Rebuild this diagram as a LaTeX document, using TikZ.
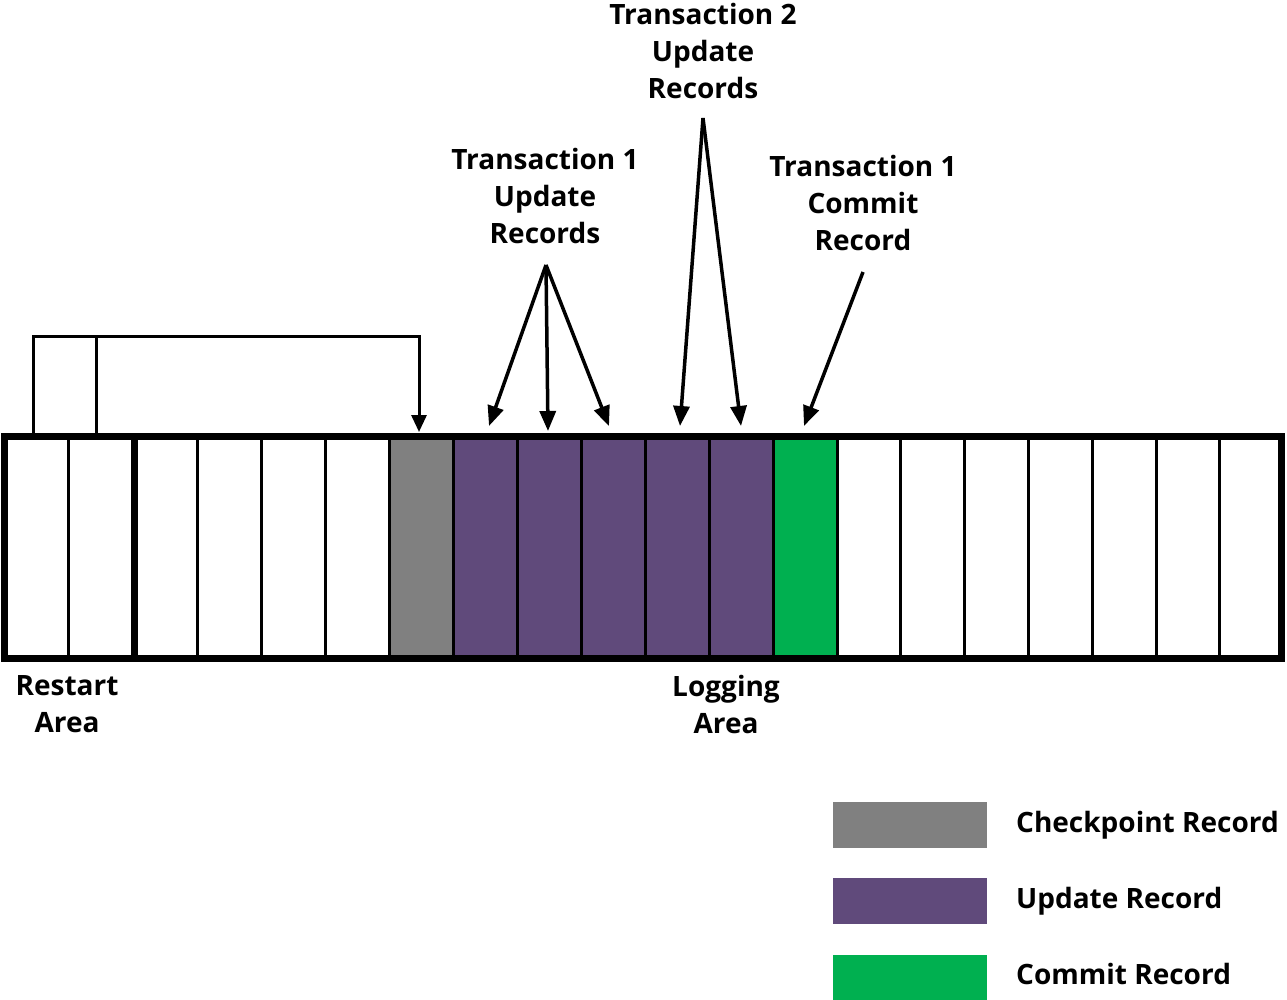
\documentclass[tikz,border=0pt]{standalone}
\usepackage{fontspec}
\setmainfont{Open Sans}
\usetikzlibrary{arrows.meta,calc}
\definecolor{ckgray}{HTML}{808080}
\definecolor{updpurple}{HTML}{604A7B}
\definecolor{cmtgreen}{HTML}{00B050}
\begin{document}
\begin{tikzpicture}[x=1pt,y=-1pt,
  lbl/.style={font=\bfseries\fontsize{28}{37}\selectfont, align=center, inner sep=0pt},
  leg/.style={font=\bfseries\fontsize{28}{37}\selectfont, inner sep=0pt, anchor=base west},
  arr/.style={line width=3.5pt, -{Triangle[length=20pt,width=16pt]}},
  thin/.style={line width=3pt},
  thick/.style={line width=7pt}]
\useasboundingbox (0,0) rectangle (1287,1000);
% cell fills
\foreach \a/\b/\col in {389/453/ckgray, 453/517/updpurple, 517/581/updpurple, 581/645/updpurple,
  645/709/updpurple, 709/773/updpurple, 773/837/cmtgreen}
  \fill[\col] (\a,436) rectangle (\b,658);
% dividers
\foreach \x in {68,197,261,325,389,453,517,581,645,709,773,837,900,964,1028,1092,1156,1219}
  \draw[thin] (\x,436) -- (\x,658);
\draw[thick] (134,436) -- (134,658);
\draw[thick, line join=miter] (4.5,436) rectangle (1281,658);
% bracket
\coordinate (r1) at (33,436);
\coordinate (r2) at (96.5,436);
\coordinate (ck) at (419,432);
\draw[thin, line join=miter, -{Triangle[length=17pt,width=15pt]}] (r1) |- (336,336) -| (ck);
\draw[thin] (r2) -- (96.5,336);
% labels
\node[lbl, anchor=north] (t2) at (703,3.5) {Transaction 2\\Update\\Records};
\node[lbl, anchor=north] (t1u) at (545,148.5) {Transaction 1\\Update\\Records};
\node[lbl, anchor=north] (t1c) at (863,155.5) {Transaction 1\\Commit\\Record};
\node[lbl, anchor=north] (ra) at (67,675) {Restart\\Area};
\node[lbl, anchor=north] (la) at (726,675) {Logging\\Area};
% arrow sources and targets
\coordinate (s1) at (546,265);
\coordinate (s2) at (703,118);
\coordinate (s3) at (863,272);
\coordinate (p8) at (489,426);
\coordinate (p9) at (548,431);
\coordinate (p10) at (609,426);
\coordinate (p11) at (680,426);
\coordinate (p12) at (741,426);
\coordinate (p13) at (804,426);
\draw[arr] (s1) -- (p8);
\draw[arr] (s1) -- (p9);
\draw[arr] (s1) -- (p10);
\draw[arr] (s2) -- (p11);
\draw[arr] (s2) -- (p12);
\draw[arr] (s3) -- (p13);
% legend
\fill[ckgray] (833,802) rectangle (987,848);
\fill[updpurple] (833,878) rectangle (987,924);
\fill[cmtgreen] (833,955) rectangle (987,1000);
\node[leg] (lg1) at (1016,832.7) {Checkpoint Record};
\node[leg] (lg2) at (1016,908) {Update Record};
\node[leg] (lg3) at (1016,984) {Commit Record};
\end{tikzpicture}
\end{document}
